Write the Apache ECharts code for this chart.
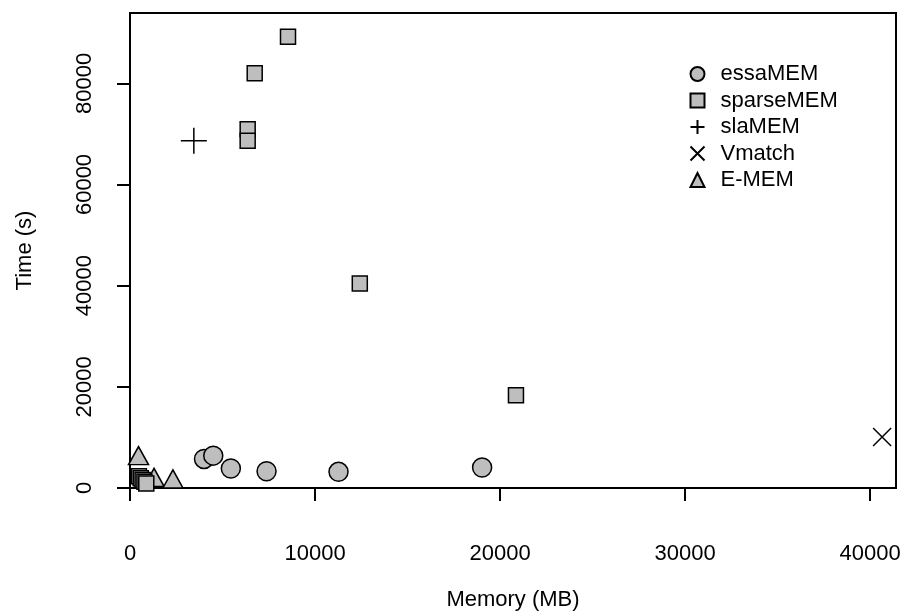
<!DOCTYPE html>
<html>
<head>
<meta charset="utf-8">
<script src="https://cdn.jsdelivr.net/npm/echarts@6/dist/echarts.min.js"></script>
<style>
  html, body { margin: 0; padding: 0; background: #fff; }
  #chart { width: 908px; height: 612px; }
</style>
</head>
<body>
<div id="chart"></div>
<script>
// memory (MB) / time (s) per tool
var essaMemX = [4000, 4500, 5450, 7380, 11270, 19030];
var essaMemY = [5750, 6400, 3850, 3300, 3200, 4050];

var sparseMemX = [8540, 6740, 6360, 6360, 12420, 20860, 480, 580, 680, 780, 880];
var sparseMemY = [89200, 82000, 70900, 68650, 40430, 18340, 2300, 1950, 1600, 1250, 900];

var slaMemX = [3450];
var slaMemY = [68650];

var vmatchX = [40650];
var vmatchY = [10090];

var eMemX = [460, 1300, 2320];
var eMemY = [5800, 1500, 1200];

var xTicks = [0, 10000, 20000, 30000, 40000];
var yTicks = [0, 20000, 40000, 60000, 80000];

function pairs(xs, ys) {
  return xs.map(function (x, i) { return [x, ys[i]]; });
}

var FONT = "Liberation Sans";
var GRAY = "#bebebe";
var plusPath = "path://M1,0L1,2M0,1L2,1";
var crossPath = "path://M0,0L2,2M2,0L0,2";

var myChart = echarts.init(document.getElementById("chart"));

myChart.setOption({
  animation: false,
  textStyle: { fontFamily: FONT, color: "#000" },
  grid: {
    left: 130, right: 12, top: 13, bottom: 124,
    show: true, borderColor: "#000", borderWidth: 2,
    containLabel: false,
    outerBoundsMode: "none"
  },
  legend: {
    orient: "vertical",
    left: 683, top: 58,
    itemWidth: 14, itemHeight: 14,
    itemGap: 4.5,
    textStyle: { fontFamily: FONT, fontSize: 22, color: "#000", lineHeight: 21, padding: [0, 0, 0, 11] },
    data: [
      { name: "essaMEM", icon: "circle" },
      { name: "sparseMEM", icon: "rect" },
      { name: "slaMEM", icon: plusPath },
      { name: "Vmatch", icon: crossPath },
      { name: "E-MEM", icon: "triangle" }
    ]
  },
  xAxis: {
    type: "value",
    min: 0, max: 41400,
    name: "Memory (MB)",
    nameLocation: "middle",
    nameGap: 101,
    nameTextStyle: { fontFamily: FONT, fontSize: 22, color: "#000" },
    splitLine: { show: false },
    axisLine: { show: true, onZero: false, lineStyle: { color: "#000", width: 2 } },
    axisTick: { show: true, length: 13, customValues: xTicks, lineStyle: { color: "#000", width: 2 } },
    axisLabel: {
      customValues: xTicks, margin: 55,
      fontFamily: FONT, fontSize: 22, color: "#000",
      formatter: function (v) { return String(v); }
    }
  },
  yAxis: {
    type: "value",
    min: 0, max: 93900,
    name: "Time (s)",
    nameLocation: "middle",
    nameGap: 94,
    nameTextStyle: { fontFamily: FONT, fontSize: 22, color: "#000" },
    splitLine: { show: false },
    axisLine: { show: true, onZero: false, lineStyle: { color: "#000", width: 2 } },
    axisTick: { show: true, length: 13, customValues: yTicks, lineStyle: { color: "#000", width: 2 } },
    axisLabel: {
      customValues: yTicks, margin: 34, rotate: 90,
      fontFamily: FONT, fontSize: 22, color: "#000",
      formatter: function (v) { return String(v); }
    }
  },
  series: [
    {
      name: "E-MEM", type: "scatter", z: 2,
      symbol: "triangle", symbolSize: [20, 18], symbolOffset: [0, -3],
      itemStyle: { color: GRAY, borderColor: "#000", borderWidth: 1.5, opacity: 1 },
      data: pairs(eMemX, eMemY)
    },
    {
      name: "essaMEM", type: "scatter", z: 3,
      symbol: "circle", symbolSize: 19,
      itemStyle: { color: GRAY, borderColor: "#000", borderWidth: 1.5, opacity: 1 },
      data: pairs(essaMemX, essaMemY)
    },
    {
      name: "sparseMEM", type: "scatter", z: 3,
      symbol: "rect", symbolSize: 15,
      itemStyle: { color: GRAY, borderColor: "#000", borderWidth: 1.5, opacity: 1 },
      data: pairs(sparseMemX, sparseMemY)
    },
    {
      name: "slaMEM", type: "scatter", z: 3,
      symbol: plusPath, symbolSize: 26,
      itemStyle: { color: "none", borderColor: "#000", borderWidth: 1.5, opacity: 1 },
      data: pairs(slaMemX, slaMemY)
    },
    {
      name: "Vmatch", type: "scatter", z: 3,
      symbol: crossPath, symbolSize: 18,
      itemStyle: { color: "none", borderColor: "#000", borderWidth: 1.5, opacity: 1 },
      data: pairs(vmatchX, vmatchY)
    }
  ]
});
</script>
</body>
</html>
